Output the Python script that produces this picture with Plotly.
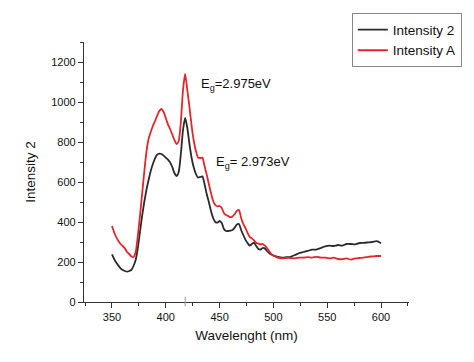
import plotly.graph_objects as go

wavelength = [350, 353, 356, 358, 360, 362, 364, 366, 368, 370, 372, 374, 376, 378, 380,
              382, 384, 386, 388, 390, 392, 394, 396, 398, 400, 402, 404, 406, 408, 410,
              412, 414, 416, 418, 420, 422, 424, 426, 428, 430, 432, 434, 436, 438, 440,
              442, 444, 446, 448, 450, 452, 454, 456, 458, 460, 462, 464, 466, 468, 470,
              472, 474, 476, 478, 480, 482, 484, 486, 488, 490, 492, 494, 496, 498, 500,
              504, 508, 512, 516, 520, 524, 528, 532, 536, 540, 544, 548, 552, 556, 560,
              564, 568, 572, 576, 580, 584, 588, 592, 596, 600]

intensity_2 = [238, 205, 182, 168, 160, 155, 152, 155, 160, 180, 210, 270, 350, 430, 500,
               560, 610, 655, 690, 718, 737, 742, 740, 732, 722, 712, 698, 675, 645, 630,
               650, 740, 860, 920, 870, 790, 720, 672, 640, 622, 625, 628, 590, 540, 500,
               455, 420, 400, 397, 405, 395, 365, 355, 355, 357, 360, 372, 388, 390, 360,
               335, 312, 295, 282, 290, 297, 280, 265, 262, 270, 268, 255, 245, 237, 232,
               226, 222, 224, 226, 235, 245, 250, 256, 262, 262, 270, 278, 282, 280, 285,
               282, 290, 290, 288, 295, 296, 298, 300, 304, 294]

intensity_a = [380, 335, 305, 290, 280, 268, 250, 240, 228, 225, 250, 330, 430, 540, 650,
               750, 815, 850, 880, 905, 932, 955, 965, 950, 920, 888, 865, 838, 810, 790,
               805, 900, 1060, 1140, 1060, 975, 880, 805, 755, 722, 720, 722, 680, 638, 590,
               545, 505, 485, 478, 480, 470, 445, 435, 430, 424, 428, 440, 455, 460, 420,
               390, 370, 345, 325, 318, 308, 295, 292, 288, 290, 282, 270, 255, 240, 232,
               222, 218, 220, 220, 218, 222, 222, 224, 222, 226, 222, 222, 218, 222, 215,
               214, 218, 212, 218, 220, 222, 226, 228, 230, 230]

series_names = ["Intensity 2", "Intensity A"]
x_ticks = [350, 400, 450, 500, 550, 600]
y_ticks = [0, 200, 400, 600, 800, 1000, 1200]
peak_wavelength = 418
band_gap_labels = ["E<sub>g</sub>=2.975eV", "E<sub>g</sub>= 2.973eV"]

FONT = "Liberation Sans, Arial, sans-serif"
AX = "#333333"

fig = go.Figure()
fig.add_trace(go.Scatter(x=wavelength, y=intensity_2, mode="lines", name=series_names[0],
                         line=dict(color="#2a2a2a", width=1.8, shape="spline", smoothing=0.6)))
fig.add_trace(go.Scatter(x=wavelength, y=intensity_a, mode="lines", name=series_names[1],
                         line=dict(color="#e3262b", width=1.8, shape="spline", smoothing=0.6)))

fig.add_annotation(x=430.6, y=1090, text=band_gap_labels[0], showarrow=False,
                   xanchor="left", yanchor="middle", font=dict(size=13, color="#111", family=FONT))
fig.add_annotation(x=444.4, y=700, text=band_gap_labels[1], showarrow=False,
                   xanchor="left", yanchor="middle", font=dict(size=13, color="#111", family=FONT))

fig.add_shape(type="line", xref="x", yref="paper", x0=peak_wavelength, x1=peak_wavelength,
              y0=-0.017, y1=0.02, line=dict(color="#999999", width=1))

fig.update_layout(
    width=466, height=354,
    margin=dict(l=76, r=65, t=34, b=60, autoexpand=False),
    paper_bgcolor="white", plot_bgcolor="white",
    font=dict(family=FONT, color="#111"),
    showlegend=True,
    legend=dict(x=0.824, y=1.11, xanchor="left", yanchor="top",
                bordercolor="#888888", borderwidth=1, bgcolor="white",
                font=dict(size=13.5, family=FONT, color="#111"),
                itemwidth=30, tracegroupgap=0),
    xaxis=dict(range=[324, 626], tickvals=x_ticks, showgrid=False, zeroline=False,
               showline=True, linecolor=AX, linewidth=1.3, automargin=False,
               ticks="outside", ticklen=5, tickcolor=AX, tickwidth=1.3,
               minor=dict(dtick=25, ticks="outside", ticklen=3, tickcolor=AX, tickwidth=1),
               tickfont=dict(size=11, family=FONT, color="#111"),
               title=dict(text="Wavelenght (nm)", font=dict(size=13.5, family=FONT, color="#111"),
                          standoff=8)),
    yaxis=dict(range=[0, 1300], tickvals=y_ticks, showgrid=False, zeroline=False,
               showline=True, linecolor=AX, linewidth=1.3, automargin=False,
               ticks="outside", ticklen=5, tickcolor=AX, tickwidth=1.3,
               minor=dict(dtick=100, ticks="outside", ticklen=3, tickcolor=AX, tickwidth=1),
               tickfont=dict(size=11, family=FONT, color="#111"),
               title=dict(text="Intensity 2", font=dict(size=13.5, family=FONT, color="#111"),
                          standoff=12)),
)

fig.write_html("out.html")
